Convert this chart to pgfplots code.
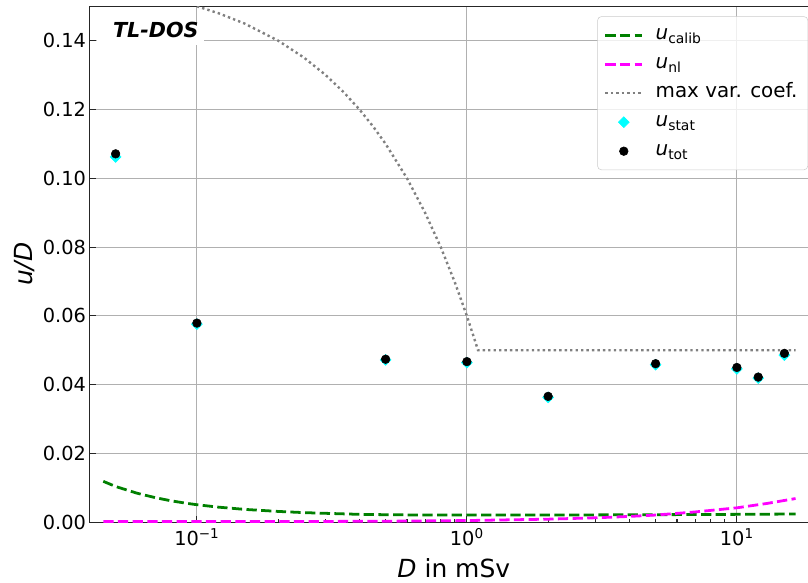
\documentclass[border=0pt]{standalone}
\usepackage{pgfplots}
\pgfplotsset{compat=1.18}
\usepackage{fontspec}
\setmainfont{DejaVu Sans}
\definecolor{mplgreen}{HTML}{008000}
\definecolor{mplmag}{HTML}{FF00FF}
\definecolor{mplgray}{HTML}{808080}
\definecolor{mplcyan}{HTML}{00FFFF}
\definecolor{gridgray}{HTML}{B0B0B0}
\pgfplotsset{
  linelegend/.style={legend image code/.code={\draw[##1] (0pt,0pt) -- (27.75pt,0pt);}},
  marklegend/.style={legend image code/.code={\draw[##1, fill opacity=1] plot coordinates {(13.875pt,0pt)};}},
}
\begin{document}
\begin{tikzpicture}
\begin{axis}[
  scale only axis,
  width=546.5pt, height=387pt,
  xmode=log,
  xmin=0.04, xmax=20, ymin=0, ymax=0.15,
  xtick={0.1,1,10},
  xticklabels={10\textsuperscript{−1},10\textsuperscript{0},10\textsuperscript{1}},
  ytick={0,0.02,0.04,0.06,0.08,0.10,0.12,0.14},
  yticklabels={0.00,0.02,0.04,0.06,0.08,0.10,0.12,0.14},
  scaled y ticks=false,
  tick pos=left,
  tick align=inside,
  major tick length=4.8pt,
  minor tick length=2.2pt,
  every tick/.style={black!85, line width=0.8pt},
  grid=major,
  major grid style={gridgray, line width=0.8pt},
  axis line style={black!85, line width=0.85pt},
  tick label style={font=\fontsize{14.5}{17}\selectfont},
  xticklabel style={yshift=-1pt},
  yticklabel style={inner xsep=2.5pt},
  label style={font=\fontsize{18.7}{22}\selectfont},
  xlabel={\textit{D} in mSv},
  ylabel={\textit{u/D}},
  xlabel style={at={(axis description cs:0.5,-0.108)}, anchor=base},
  ylabel style={at={(axis description cs:-0.0885,0.5)}, anchor=center},
  legend cell align=left,
  legend style={
    at={(1,1)}, anchor=north east, xshift=-7.5pt, yshift=-7.5pt,
    draw=black!20, rounded corners=3pt, fill=white, fill opacity=0.8,
    draw opacity=1, text opacity=1,
    font=\fontsize{14.9}{17}\selectfont,
    inner xsep=4.8pt, inner ysep=4.5pt,
    row sep=2.75pt, column sep=6pt,
    nodes={inner xsep=3pt, inner ysep=2pt, text height=11pt, text depth=4pt},
  },
]
\addplot[mplgreen, line width=2.08pt, dash pattern=on 7.7pt off 3.3pt, linelegend] coordinates {
(0.045,0.0119)(0.05,0.0104)(0.06,0.00845)(0.07,0.00717)(0.08,0.00626)(0.09,0.0056)
(0.1,0.0051)(0.12,0.0044)(0.15,0.00375)(0.2,0.00315)(0.25,0.0028)(0.3,0.0026)
(0.4,0.0023)(0.5,0.0022)(0.7,0.0021)(1,0.0021)(2,0.0021)(5,0.0022)(10,0.0023)(16.5,0.0024)};
\addlegendentry{\textit{u}\textsubscript{calib}}
\addplot[mplmag, line width=2.08pt, dash pattern=on 7.7pt off 3.3pt, linelegend] coordinates {
(0.045,0.0002)(0.1,0.0002)(0.2,0.0002)(0.5,0.0003)(1,0.0005)(2,0.0009)(3,0.0013)
(4,0.0017)(5,0.0021)(7,0.0030)(10,0.0042)(13,0.0055)(16.5,0.0069)};
\addlegendentry{\textit{u}\textsubscript{nl}}
\addplot[mplgray, line width=1.8pt, dash pattern=on 1.8pt off 2.3pt, linelegend] coordinates {
(0.1,0.150)(0.12,0.148)(0.15,0.145)(0.2,0.140)(0.25,0.135)(0.3,0.130)(0.35,0.125)
(0.4,0.120)(0.45,0.115)(0.5,0.110)(0.6,0.100)(0.7,0.090)(0.8,0.080)(0.9,0.070)
(1.0,0.060)(1.1,0.050)(16.5,0.050)};
\addlegendentry{max var. coef.}
\addplot[only marks, mark=square*, mark size=2.9pt, color=mplcyan, mark options={rotate=45, fill=mplcyan, draw=mplcyan}, marklegend] coordinates {
(0.05,0.1062)(0.1,0.0576)(0.5,0.0472)(1,0.0464)(2,0.0363)(5,0.0458)(10,0.0446)(12,0.0419)(15,0.0486)};
\addlegendentry{\textit{u}\textsubscript{stat}}
\addplot[only marks, mark=*, mark size=3.25pt, color=black, mark options={fill=black}, marklegend] coordinates {
(0.05,0.1071)(0.1,0.0579)(0.5,0.0474)(1,0.0467)(2,0.0366)(5,0.0461)(10,0.0450)(12,0.0422)(15,0.0491)};
\addlegendentry{\textit{u}\textsubscript{tot}}
\fill[white] (rel axis cs:0.0103,0.925) rectangle (rel axis cs:0.157,0.9612);
\node[font=\fontsize{15.5}{18}\selectfont\bfseries\itshape] at (rel axis cs:0.091,0.954) {TL-DOS};
\end{axis}
\pgfresetboundingbox
\useasboundingbox (-67.1pt,-45.5pt) rectangle (538.9pt,391.7pt);
\end{tikzpicture}
\end{document}
